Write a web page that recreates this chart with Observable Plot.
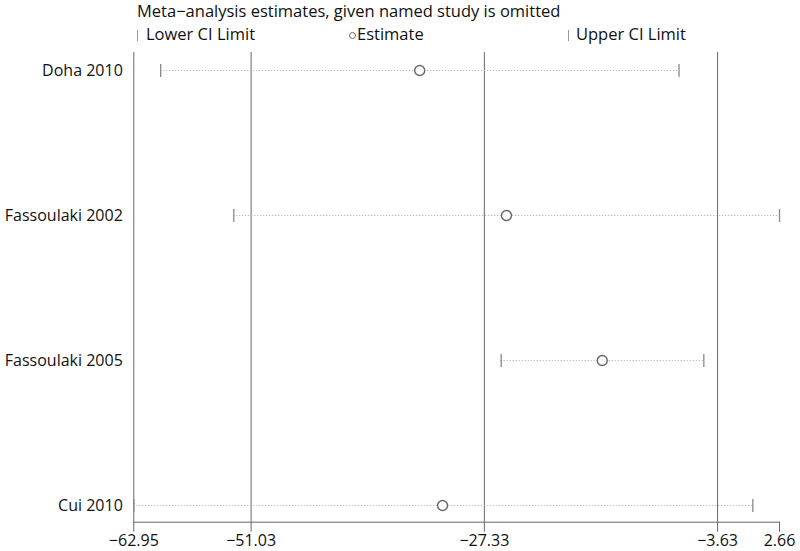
<!DOCTYPE html>
<html>
<head>
<meta charset="utf-8">
<script src="https://cdn.jsdelivr.net/npm/d3@7"></script>
<script src="https://cdn.jsdelivr.net/npm/@observablehq/plot@0.6"></script>
<style>
  html, body { margin: 0; padding: 0; background: #fff; }
  body { width: 800px; height: 551px; overflow: hidden; font-family: "Open Sans", sans-serif; color: #111; }
  #header { position: relative; width: 800px; height: 50px; font-size: 16.5px; line-height: 18px; }
  #header .t { position: absolute; white-space: nowrap; }
  .bar { position: absolute; width: 1px; height: 11px; background: #999; }
  .circ { position: absolute; width: 5px; height: 5px; border: 1.2px solid #666; border-radius: 50%; }
</style>
</head>
<body>
<div id="header">
  <div class="t" style="left:137px; top:2px;">Meta−analysis estimates, given named study is omitted</div>
  <div class="bar" style="left:137px; top:30px;"></div>
  <div class="t" style="left:146px; top:25px;">Lower CI Limit</div>
  <div class="circ" style="left:349px; top:32px;"></div>
  <div class="t" style="left:357px; top:25px;">Estimate</div>
  <div class="bar" style="left:568px; top:30px;"></div>
  <div class="t" style="left:576px; top:25px;">Upper CI Limit</div>
</div>
<div id="chart"></div>
<script>
const studies = ["Doha 2010", "Fassoulaki 2002", "Fassoulaki 2005", "Cui 2010"];
const estimates = [-33.9, -25.08, -15.35, -31.58];
const lowerCI = [-60.22, -52.79, -25.62, -62.95];
const upperCI = [-7.55, 2.66, -5.03, -0.05];
const referenceLines = [-51.03, -27.33, -3.63];
const xTicks = [-62.95, -51.03, -27.33, -3.63, 2.66];
const xTickLabels = ["−62.95", "−51.03", "−27.33", "−3.63", "2.66"];

const data = studies.map((s, i) => ({study: s, est: estimates[i], lo: lowerCI[i], hi: upperCI[i]}));

const capSymbol = {draw(context) { context.moveTo(0, -6.5); context.lineTo(0, 6.5); }};

const chart = Plot.plot({
  width: 800,
  height: 501,
  marginLeft: 133.3,
  marginRight: 21,
  marginTop: 2,
  marginBottom: 29.3,
  style: {fontFamily: "'Open Sans', sans-serif", fontSize: "16px", color: "#111", background: "#fff"},
  x: {domain: [xTicks[0], xTicks[xTicks.length - 1]]},
  y: {type: "point", domain: studies, range: [18.5, 455.7], padding: 0},
  marks: [
    Plot.frame({anchor: "bottom", stroke: "#666", strokeOpacity: 1}),
    Plot.ruleX([xTicks[0]], {stroke: "#666", strokeWidth: 1}),
    Plot.ruleX(referenceLines, {stroke: "#666", strokeWidth: 1}),
    Plot.ruleY(data, {y: "study", x1: "lo", x2: "hi", stroke: "#aaa", strokeWidth: 1, strokeDasharray: "1,2"}),
    Plot.dot(data, {x: "lo", y: "study", symbol: capSymbol, stroke: "#888", strokeWidth: 1.3, fill: "none"}),
    Plot.dot(data, {x: "hi", y: "study", symbol: capSymbol, stroke: "#888", strokeWidth: 1.3, fill: "none"}),
    Plot.dot(data, {x: "est", y: "study", r: 5, stroke: "#666", strokeWidth: 1.4, fill: "#fff"}),
    Plot.axisX({ticks: xTicks, tickFormat: (d) => xTickLabels[xTicks.indexOf(d)], tickSize: 10, tickPadding: 2.5, stroke: "#666", label: null, fontSize: 16}),
    Plot.axisY({tickSize: 0, tickPadding: 11, label: null, fontSize: 16})
  ]
});
document.getElementById("chart").appendChild(chart);
</script>
</body>
</html>
